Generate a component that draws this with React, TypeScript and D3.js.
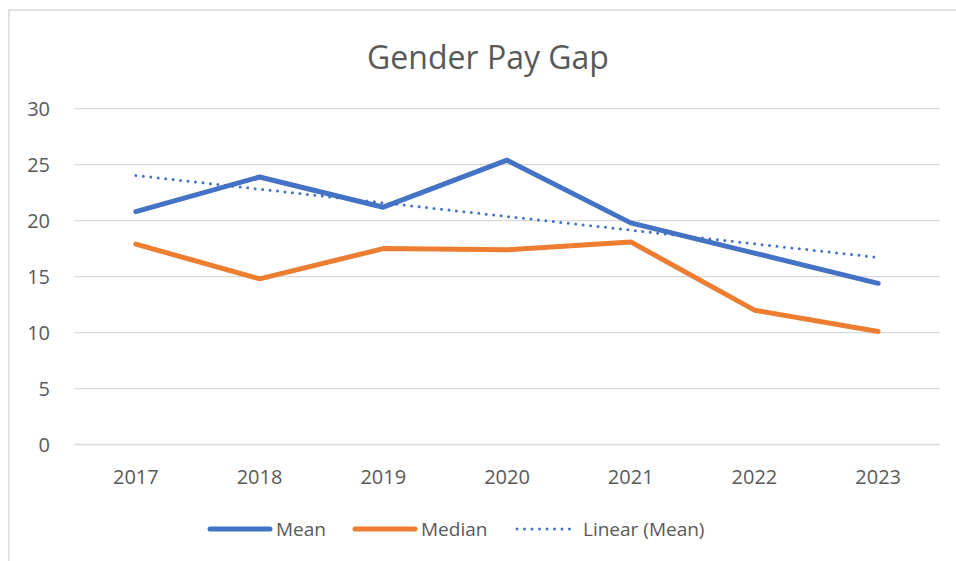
import React from "react";
import * as d3 from "d3";

const years = ["2017", "2018", "2019", "2020", "2021", "2022", "2023"];
const meanValues = [20.8, 23.9, 21.2, 25.4, 19.8, 17.1, 14.4];
const medianValues = [17.9, 14.8, 17.5, 17.4, 18.1, 12.0, 10.1];
const yTicks = [0, 5, 10, 15, 20, 25, 30];

const FONT = "'Open Sans', 'Liberation Sans', sans-serif";
const TEXT = "#595959";
const BLUE = "#4472c4";
const ORANGE = "#ed7d31";

const App = () => {
  const width = 956;
  const height = 561;

  const x = d3.scaleBand().domain(years).range([74, 940]);
  const y = d3.scaleLinear().domain([0, 30]).range([444.5, 108.7]);
  const cx = (yr: string) => (x(yr) as number) + x.bandwidth() / 2;

  const line = d3
    .line<number>()
    .x((d, i) => cx(years[i]))
    .y((d) => y(d));

  // linear trend of the mean (least squares)
  const n = meanValues.length;
  const xm = (n - 1) / 2;
  const ym = d3.mean(meanValues) as number;
  const slope =
    d3.sum(meanValues, (v, i) => (i - xm) * (v - ym)) /
    d3.sum(meanValues, (v, i) => (i - xm) * (i - xm));
  const trendStart = ym + slope * (0 - xm);
  const trendEnd = ym + slope * (n - 1 - xm);

  const legend = [
    { label: "Mean", x1: 210, color: BLUE, dotted: false },
    { label: "Median", x1: 355, color: ORANGE, dotted: false },
    { label: "Linear (Mean)", x1: 517, color: BLUE, dotted: true },
  ];

  return (
    <div style={{ position: "fixed", left: 0, top: 0 }}>
      <svg width={width} height={height} style={{ display: "block", background: "#fff" }}>
        <rect x={9} y={10} width={1000} height={600} fill="#fff" stroke="#d9d9d9" strokeWidth={1.5} />

        <text x={488} y={69} textAnchor="middle" fontFamily={FONT} fontSize={32} fill={TEXT}>
          Gender Pay Gap
        </text>

        {/* gridlines + y labels */}
        {yTicks.map((t) => (
          <g key={t}>
            <line x1={74} x2={940} y1={y(t)} y2={y(t)} stroke="#d9d9d9" strokeWidth={1.3} />
            <text
              x={50}
              y={y(t)}
              dy="0.36em"
              textAnchor="end"
              fontFamily={FONT}
              fontSize={20}
              fill={TEXT}
            >
              {t}
            </text>
          </g>
        ))}

        {years.map((yr) => (
          <text
            key={yr}
            x={cx(yr)}
            y={484}
            textAnchor="middle"
            fontFamily={FONT}
            fontSize={20}
            fill={TEXT}
          >
            {yr}
          </text>
        ))}

        <path d={line(meanValues) || ""} fill="none" stroke={BLUE} strokeWidth={5} strokeLinejoin="round" strokeLinecap="round" />
        <path d={line(medianValues) || ""} fill="none" stroke={ORANGE} strokeWidth={5} strokeLinejoin="round" strokeLinecap="round" />
        <line
          x1={cx(years[0])}
          x2={cx(years[n - 1])}
          y1={y(trendStart)}
          y2={y(trendEnd)}
          stroke={BLUE}
          strokeWidth={3}
          strokeDasharray="0 7.5"
          strokeLinecap="round"
        />

        {legend.map((l) => (
          <g key={l.label}>
            <line
              x1={l.x1}
              x2={l.x1 + 60}
              y1={529}
              y2={529}
              stroke={l.color}
              strokeWidth={l.dotted ? 3 : 5}
              strokeLinecap="round"
              strokeDasharray={l.dotted ? "0 7.5" : undefined}
            />
            <text x={l.x1 + 66} y={529} dy="0.36em" fontFamily={FONT} fontSize={19} fill={TEXT}>
              {l.label}
            </text>
          </g>
        ))}
      </svg>
    </div>
  );
};

export default App;
